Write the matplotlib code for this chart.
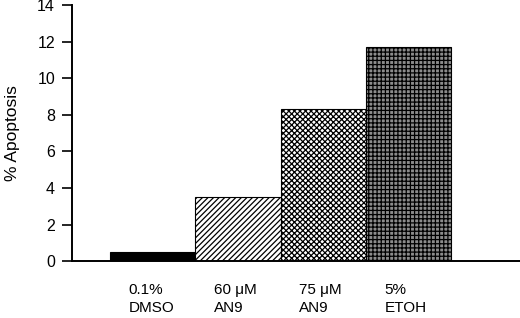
import matplotlib
matplotlib.use('Agg')
import matplotlib.pyplot as plt
import matplotlib.transforms as mtransforms

plt.rcParams['font.family'] = ['Liberation Sans', 'DejaVu Sans']
plt.rcParams['hatch.linewidth'] = 0.9

# treatments and % apoptosis
LABELS = ['0.1%\nDMSO', '60 \u03bcM\nAN9', '75 \u03bcM\nAN9', '5%\nETOH']
VALUES = [0.5, 3.5, 8.3, 11.7]
Y_TICKS = [0, 2, 4, 6, 8, 10, 12, 14]

FACES = ['black', 'white', 'white', '#8c8c8c']
HATCHES = [None, '//////', 'xxxxxx', '++++']


def main():
    fig = plt.figure(figsize=(5.2, 3.18), dpi=100)
    ax = fig.add_axes([0.138, 0.179, 0.862, 0.805])
    xs = list(range(len(VALUES)))
    for x, v, fc, h in zip(xs, VALUES, FACES, HATCHES):
        ax.bar(x, v, width=1.0, color=fc, edgecolor='black', hatch=h,
               linewidth=0.8)

    ax.set_xlim(-0.95, 4.31)
    ax.set_ylim(0, 14)
    ax.set_yticks(Y_TICKS)
    ax.tick_params(axis='y', direction='out', length=7, width=1.2,
                   labelsize=11.5, pad=5)
    ax.set_xticks([])
    for side in ('top', 'right'):
        ax.spines[side].set_visible(False)
    ax.spines['left'].set_linewidth(1.4)
    ax.spines['bottom'].set_linewidth(1.4)

    ax.set_ylabel('% Apoptosis', fontsize=12.5)
    ax.yaxis.set_label_coords(-0.115, 0.5)

    trans = mtransforms.blended_transform_factory(ax.transData, ax.transAxes)
    for x, lab in zip(xs, LABELS):
        ax.text(x - 0.5 + 0.22, -0.085, lab, transform=trans, ha='left',
                va='top', fontsize=11, linespacing=1.4)

    fig.savefig('out.png', dpi=100)


if __name__ == '__main__':
    main()
